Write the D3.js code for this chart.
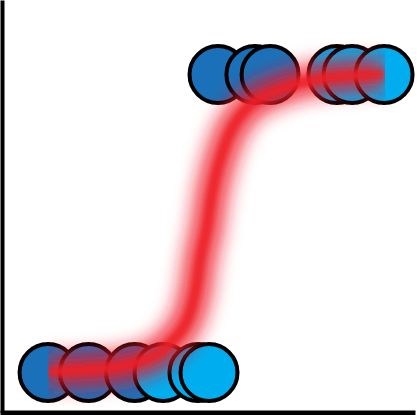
<!DOCTYPE html>
<html>
<head>
<meta charset="utf-8">
<script src="https://cdn.jsdelivr.net/npm/d3@7"></script>
<style>
  body { margin: 0; background: #fff; }
  svg { display: block; }
</style>
</head>
<body>
<svg width="417" height="415"></svg>
<script>
// observations: x position, outcome (0/1), group
const pointX = [2.15, 4.12, 6.37, 7.76, 9.46, 10.0, 10.44, 12.24, 12.98, 16.24, 16.98, 18.54];
const pointY = [0, 0, 0, 0, 0, 0, 1, 1, 1, 1, 1, 1];
const pointGroup = ["a", "a", "a", "b", "b", "b", "a", "a", "a", "b", "b", "b"];

// fitted curve
const curveX = [2.15, 4.2, 5.66, 6.78, 7.61, 8.1, 8.59, 8.93, 9.32, 9.56, 9.9, 10.15, 10.54, 11.17, 12.15, 13.46, 14.5, 16.39, 18.54];
const curveY = [0.003, 0.01, 0.02, 0.04, 0.067, 0.098, 0.135, 0.175, 0.266, 0.377, 0.488, 0.603, 0.714, 0.825, 0.906, 0.949, 0.973, 0.993, 1.0];

const groupColor = { a: "#1b71b9", b: "#00aeef" };

const svg = d3.select("svg");
const width = 417;
const height = 415;

const x = d3.scaleLinear().domain([0, 20]).range([4, 414]);
const y = d3.scaleLinear().domain([0, 1]).range([372.5, 74.5]);

// axis scales sharing the same mapping but covering the whole frame
const xAxisScale = x.copy().domain([x.invert(0), x.invert(width - 2)]).range([0, width - 2]);
const yAxisScale = y.copy().domain([y.invert(412.5), y.invert(0)]).range([412.5, 0]);

const defs = svg.append("defs");
// clipped to the curve's own box left/right, like the original
const halo = defs.append("filter")
  .attr("id", "halo")
  .attr("x", 0).attr("width", 1)
  .attr("y", -0.3).attr("height", 1.6);
halo.append("feGaussianBlur").attr("stdDeviation", 9);

const core = defs.append("filter")
  .attr("id", "core")
  .attr("x", 0).attr("width", 1)
  .attr("y", -0.3).attr("height", 1.6);
core.append("feGaussianBlur").attr("stdDeviation", 2.5);

// axes: bare lines, no ticks
svg.append("g")
  .attr("transform", "translate(2,0)")
  .call(d3.axisLeft(yAxisScale).ticks(0).tickSizeOuter(0))
  .call(g => g.select(".domain").attr("stroke", "#000").attr("stroke-width", 4));

svg.append("g")
  .attr("transform", "translate(0,412.5)")
  .call(d3.axisBottom(xAxisScale).ticks(0).tickSizeOuter(0))
  .call(g => g.select(".domain").attr("stroke", "#000").attr("stroke-width", 5));

const points = pointX.map((d, i) => ({ x: d, y: pointY[i], group: pointGroup[i] }));

svg.append("g")
  .selectAll("circle")
  .data(points)
  .enter()
  .append("circle")
  .attr("cx", d => x(d.x))
  .attr("cy", d => y(d.y))
  .attr("r", 28.5)
  .attr("fill", d => groupColor[d.group])
  .attr("stroke", "#000")
  .attr("stroke-width", 4);

const curve = curveX.map((d, i) => [d, curveY[i]]);

const line = d3.line()
  .x(d => x(d[0]))
  .y(d => y(d[1]))
  .curve(d3.curveCatmullRom.alpha(0.5));

svg.append("path")
  .datum(curve)
  .attr("d", line)
  .attr("fill", "none")
  .attr("stroke", "#ed1c24")
  .attr("stroke-opacity", 0.8)
  .attr("stroke-width", 34)
  .attr("filter", "url(#halo)");

svg.append("path")
  .datum(curve)
  .attr("d", line)
  .attr("fill", "none")
  .attr("stroke", "#ed1c24")
  .attr("stroke-opacity", 0.85)
  .attr("stroke-width", 10)
  .attr("filter", "url(#core)");
</script>
</body>
</html>
